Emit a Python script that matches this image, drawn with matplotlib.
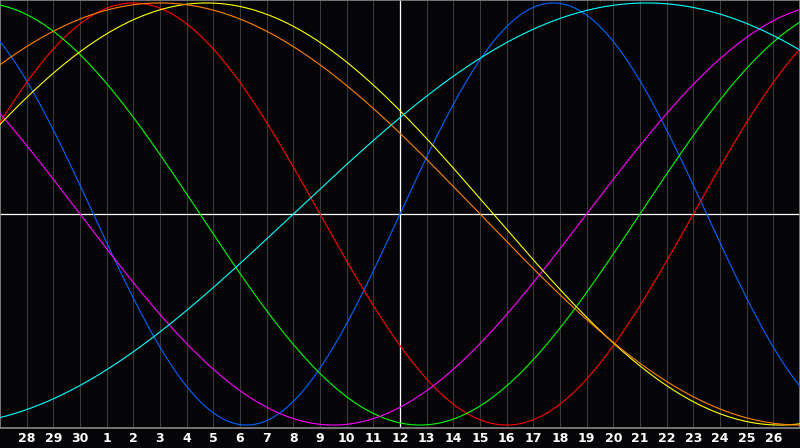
import numpy as np
import matplotlib
matplotlib.use("Agg")
import matplotlib.pyplot as plt

# biorhythm cycles (days) and their colours
cycle_names = ["physical", "emotional", "intellectual", "intuitive",
               "aesthetic", "awareness", "spiritual"]
cycle_periods = [23, 28, 33, 38, 43, 48, 53]
cycle_colors = ["#0064ff", "#ff0000", "#00ff00", "#ff00ff",
                "#ffff00", "#ff8000", "#00ffff"]

# days lived at the left edge of the chart (day 27 of previous month)
days_at_start = 21030
n_days = 30

# day labels under the grid lines
day_labels = [28, 29, 30] + list(range(1, 27))
today_index = 15  # day 12

t = np.linspace(0, n_days, 1201)

fig = plt.figure(figsize=(8, 4.48), dpi=100, facecolor="#050508")
ax = fig.add_axes([0, 20 / 448, 1, 428 / 448])
ax.set_facecolor("#050508")

for period, color in zip(cycle_periods, cycle_colors):
    y = np.sin(2 * np.pi * (days_at_start + t) / period)
    ax.plot(t, y, color=color, lw=0.8, zorder=3)

ax.set_xlim(0, n_days)
ax.set_ylim(-1.014, 1.014)

ticks = np.arange(1, len(day_labels) + 1)
ax.set_xticks(ticks)
ax.set_xticklabels([str(d) for d in day_labels], color="white",
                   fontsize=9, fontweight="bold", family="DejaVu Sans")
ax.tick_params(axis="x", length=0, pad=3)
ax.set_yticks([])
ax.grid(axis="x", color="#3a3a3a", lw=0.8, zorder=1)

ax.axhline(0, color="white", lw=0.9, zorder=2)
ax.axvline(today_index, color="white", lw=0.9, zorder=2)

for side, sp in ax.spines.items():
    sp.set_color("#8a8a8a")
    sp.set_linewidth(1.2)

fig.savefig("out.png", dpi=100, facecolor=fig.get_facecolor())
